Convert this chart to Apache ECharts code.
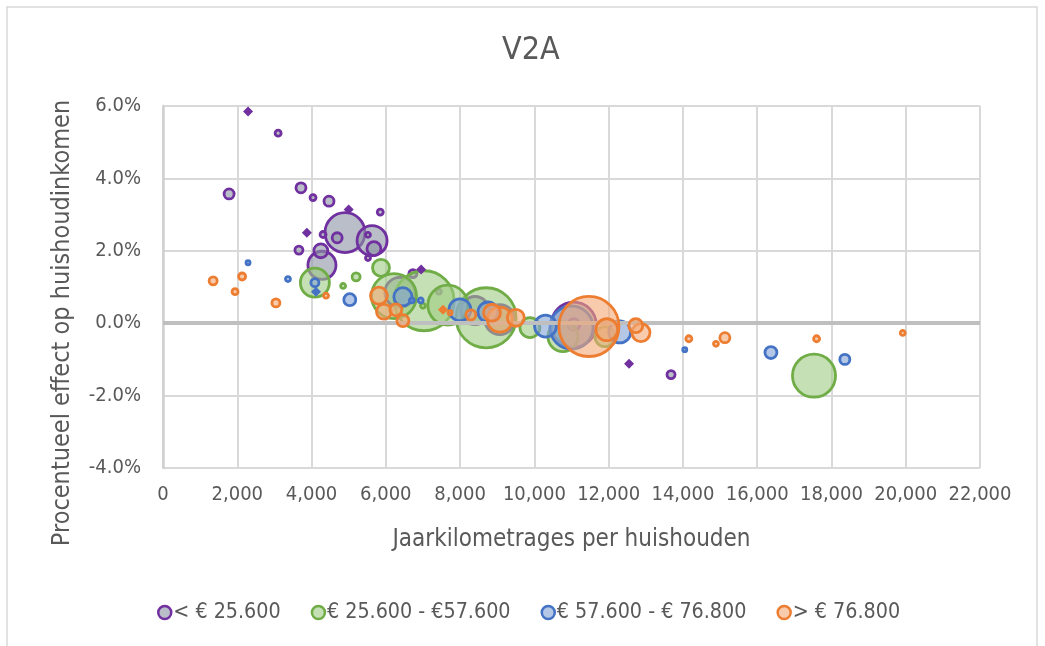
<!DOCTYPE html>
<html>
<head>
<meta charset="utf-8">
<script src="https://cdn.jsdelivr.net/npm/echarts@6/dist/echarts.min.js"></script>
<style>
html,body{margin:0;padding:0;background:#fff;}
#c{width:1045px;height:646px;}
</style>
</head>
<body>
<div id="c"></div>
<script>
// ---- data: [jaarkilometrage, procentueel effect (%), gewicht] ----
const seriesNames = ['< € 25.600', '€ 25.600 - €57.600', '€ 57.600 - € 76.800', '> € 76.800'];
const xTicks = [0, 2000, 4000, 6000, 8000, 10000, 12000, 14000, 16000, 18000, 20000, 22000];
const yTicks = [-4, -2, 0, 2, 4, 6];

const purpleBubbles = [
  [1780, 3.57, 9.8], [3100, 5.25, 3.5], [3715, 3.74, 9.8], [4040, 3.47, 3.5],
  [4470, 3.37, 9.8], [5850, 3.07, 3.5], [3660, 2.02, 6.3], [4310, 2.45, 3.5],
  [4900, 2.50, 156], [4690, 2.36, 9.8], [5630, 2.28, 88], [5680, 2.06, 19],
  [5520, 2.44, 2.4], [5520, 1.80, 2.4], [4250, 2.00, 19], [4280, 1.60, 77],
  [6730, 1.37, 6.3], [13680, -1.42, 6.3], [8400, 0.35, 77], [9070, 0.10, 88],
  [11060, -0.04, 198], [11060, -0.04, 14], [6380, 0.85, 88], [7430, 0.87, 2.4]
];
const greenBubbles = [
  [4090, 1.12, 82], [4850, 1.03, 2.4], [5200, 1.28, 6.3], [5870, 1.53, 28],
  [6220, 0.75, 198], [7030, 0.62, 352], [7670, 0.50, 156], [8700, 0.15, 352],
  [9880, -0.12, 39], [10770, -0.37, 88], [11900, -0.37, 39], [17530, -1.45, 181],
  [7000, 0.48, 2.4]
];
const blueBubbles = [
  [2290, 1.67, 1.6], [3365, 1.22, 2.4], [4090, 1.12, 6.3], [5030, 0.65, 14],
  [6460, 0.73, 32], [6700, 0.63, 2.4], [6940, 0.63, 2.4], [7995, 0.37, 47],
  [8750, 0.31, 39], [10300, -0.08, 47], [11000, -0.12, 181], [12300, -0.24, 47],
  [14050, -0.73, 1.6], [16370, -0.81, 14], [18360, -1.00, 9.8]
];
const orangeBubbles = [
  [1350, 1.17, 6.3], [1940, 0.87, 3.5], [2130, 1.29, 4.8], [3040, 0.56, 6.3],
  [4390, 0.76, 2.4], [5815, 0.76, 28], [5950, 0.32, 22], [6270, 0.37, 14],
  [6460, 0.07, 14], [7730, 0.29, 1.6], [8290, 0.23, 9.8], [8860, 0.29, 28],
  [9070, 0.10, 61], [9500, 0.15, 28], [11470, -0.09, 352], [11950, -0.18, 47],
  [12730, -0.07, 19], [12870, -0.26, 32], [14160, -0.43, 3.5], [14890, -0.57, 2.4],
  [15130, -0.40, 9.8], [17600, -0.43, 3.5], [19920, -0.27, 2.4]
];
const purpleDiamonds = [[2290, 5.85], [5000, 3.14], [3875, 2.50], [6950, 1.48], [12550, -1.12]];
const blueDiamonds = [[4120, 0.87]];
const orangeDiamonds = [[7540, 0.37]];

// ---- styling ----
const FONT = "'Liberation Sans Narrow', 'DejaVu Sans Condensed', 'Liberation Sans', sans-serif";
const TXT = '#595959';
const strokes = ['#7030A0', '#70AD47', '#4472C4', '#ED7D31'];
const fills = ['rgba(140,147,164,0.6)', 'rgba(158,203,130,0.6)', 'rgba(130,162,215,0.6)', 'rgba(243,168,118,0.6)'];
const bubbleData = [purpleBubbles, greenBubbles, blueBubbles, orangeBubbles];

function sortBySize(arr) { return arr.slice().sort((a, b) => b[2] - a[2]); }

const series = [{
  type: 'scatter', name: 'zero', data: [], z: 1, silent: true,
  markLine: {
    silent: true, symbol: 'none', label: { show: false },
    lineStyle: { color: '#BFBFBF', width: 4, type: 'solid' },
    data: [{ yAxis: 0 }]
  }
}];
bubbleData.forEach((d, i) => {
  series.push({
    type: 'scatter', name: seriesNames[i], data: sortBySize(d), z: 2 + i,
    symbol: 'circle',
    symbolSize: v => Math.sqrt(v[2]) * 3.2,
    itemStyle: { color: fills[i], borderColor: strokes[i], borderWidth: 2.8, opacity: 1 },
    emphasis: { disabled: true }
  });
});
[[purpleDiamonds, 0], [blueDiamonds, 2], [orangeDiamonds, 3]].forEach(([d, i]) => {
  series.push({
    type: 'scatter', name: 'gem ' + i, data: d, z: 3 + i,
    symbol: 'diamond', symbolSize: 10,
    itemStyle: { color: strokes[i], opacity: 1 },
    emphasis: { disabled: true }
  });
});

const chart = echarts.init(document.getElementById('c'));
chart.setOption({
  animation: false,
  backgroundColor: '#fff',
  textStyle: { fontFamily: FONT },
  graphic: [{
    type: 'rect', shape: { x: 7, y: 7, width: 1030, height: 680 },
    style: { fill: 'none', stroke: '#D9D9D9', lineWidth: 1.5 }, silent: true, z: -10
  }],
  title: {
    text: 'V2A', left: 497, top: 30,
    textStyle: { fontFamily: FONT, fontSize: 32, fontWeight: 'normal', color: TXT }
  },
  grid: { left: 163, right: 65, top: 106, bottom: 178, containLabel: false },
  xAxis: {
    type: 'value', min: xTicks[0], max: xTicks[xTicks.length - 1], interval: 2000,
    name: 'Jaarkilometrages per huishouden', nameLocation: 'middle', nameGap: 60,
    nameTextStyle: { fontFamily: FONT, fontSize: 24, color: TXT },
    axisLine: { show: false }, axisTick: { show: false },
    axisLabel: {
      margin: 17, fontFamily: FONT, fontSize: 20, color: TXT,
      formatter: v => v.toLocaleString('en-US')
    },
    splitLine: { show: true, lineStyle: { color: '#D9D9D9', width: 2 } }
  },
  yAxis: {
    type: 'value', min: yTicks[0], max: yTicks[yTicks.length - 1], interval: 2,
    name: 'Procentueel effect op huishoudinkomen', nameLocation: 'middle', nameGap: 88,
    nameTextStyle: { fontFamily: FONT, fontSize: 25, color: TXT, padding: [0, 72, 0, 0] },
    axisLine: { show: true, lineStyle: { color: '#D0D0D0', width: 2.5 } },
    axisTick: { show: false },
    axisLabel: {
      margin: 22, fontFamily: FONT, fontSize: 20, color: TXT,
      formatter: v => v.toFixed(1) + '%'
    },
    splitLine: { show: true, lineStyle: { color: '#D9D9D9', width: 2 } }
  },
  legend: {
    data: seriesNames.map((n, i) => ({
      name: n, icon: 'circle',
      itemStyle: { color: fills[i], borderColor: strokes[i], borderWidth: 2.5 }
    })),
    left: 152, top: 597, itemGap: 30, itemWidth: 13, itemHeight: 16,
    textStyle: { fontFamily: FONT, fontSize: 21.3, color: TXT, padding: [0, 0, 0, -3] }
  },
  series: series
});
</script>
</body>
</html>
